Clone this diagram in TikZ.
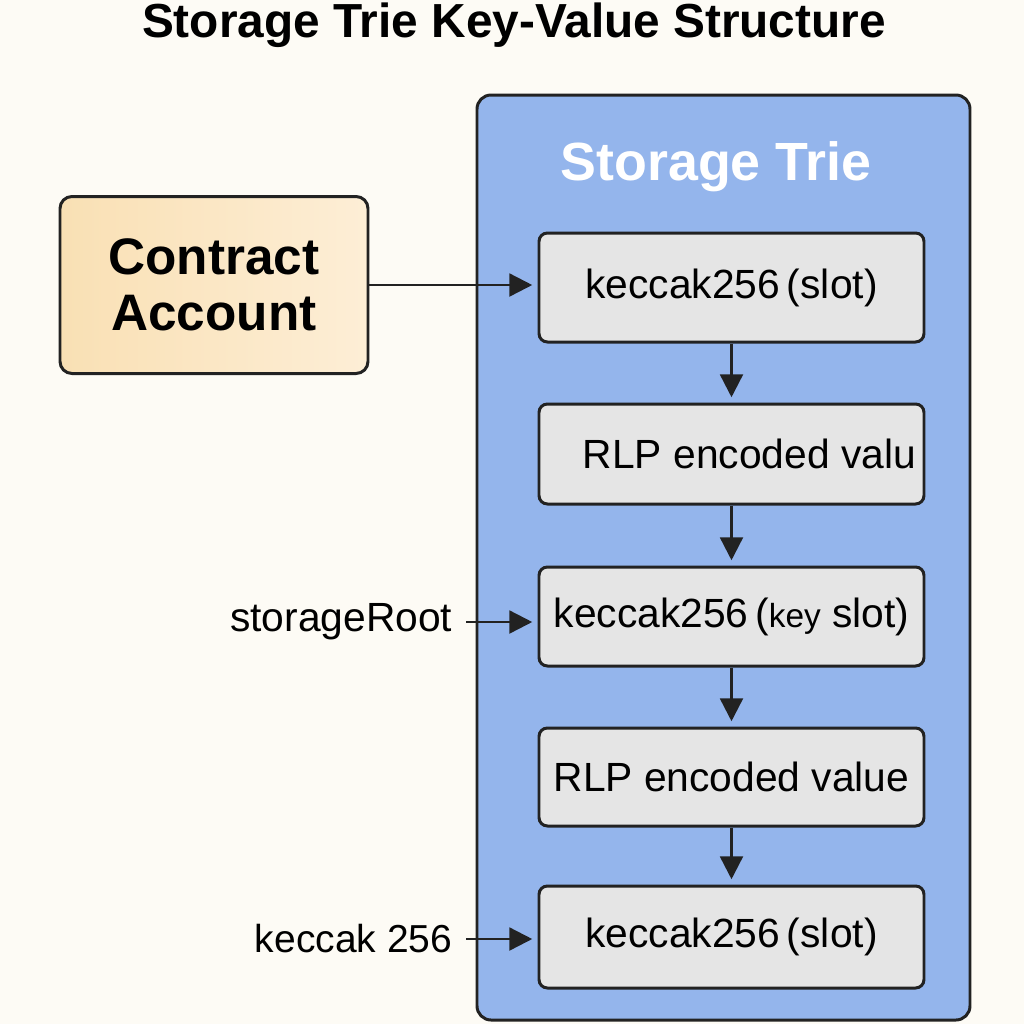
\documentclass[tikz,border=0pt]{standalone}
\usepackage{fontspec}
\setmainfont{Liberation Sans}
\usetikzlibrary{positioning}
\usetikzlibrary{arrows.meta}
\definecolor{bg}{RGB}{253,251,245}
\definecolor{trieblue}{RGB}{148,181,236}
\definecolor{slotgray}{RGB}{229,229,229}
\definecolor{acctl}{RGB}{249,224,180}
\definecolor{acctr}{RGB}{253,238,214}
\definecolor{ink}{RGB}{34,34,34}
\def\bw{3.85cm}
\def\bh{1cm}
\tikzset{
	slotbox/.style={draw=ink,line width=0.85pt,rounded corners=2.4pt,fill=slotgray,minimum width=\bw,minimum height=\bh,inner xsep=0.08cm,font=\fontsize{11.6}{14}\selectfont},
	link/.style={-{Triangle[length=6.5pt,width=6.5pt]},color=ink,line width=0.7pt,shorten >=1.5pt},
	sidelabel/.style={anchor=east,inner xsep=3.7pt,font=\fontsize{11.6}{14}\selectfont}
}

\begin{document}
\begin{tikzpicture}
\fill[bg] (0,0) rectangle (10.24,-10.24);
\useasboundingbox (0,0) rectangle (10.24,-10.24);

\node[font=\bfseries\fontsize{13.6}{16}\selectfont] (title) at (5.14,-0.25) {Storage Trie Key-Value Structure};

% the trie container
\node[draw=ink,line width=0.85pt,rounded corners=4pt,fill=trieblue,minimum width=4.93cm,minimum height=9.25cm] (trie) at (7.235,-5.575) {};
\node[text=white,font=\bfseries\fontsize{15.3}{18}\selectfont] (trietitle) at (7.16,-1.67) {Storage Trie};

\node[draw=ink,line width=0.85pt,rounded corners=3.4pt,left color=acctl,right color=acctr,minimum width=3.08cm,minimum height=1.77cm,align=center,font=\bfseries\fontsize{14.6}{16}\selectfont] (contract) at (2.14,-2.85) {Contract\\Account};

\node[slotbox,minimum height=1.09cm] (k1) at (7.315,-2.875) {keccak256\,(slot)};
\node[slotbox,text width=3.69cm,align=flush right] (v1) at (7.315,-4.54) {RLP encoded valu};
\node[slotbox,minimum height=0.99cm] (k2) at (7.315,-6.165) {keccak256\,({\fontsize{9.5}{12}\selectfont key} slot)};
\node[slotbox,minimum height=0.98cm] (v2) at (7.315,-7.77) {RLP encoded value};
\node[slotbox,minimum height=1.02cm] (k3) at (7.315,-9.37) {keccak256\,(slot)};

\node[sidelabel] (root) at (4.66,-6.22) {storageRoot};
\node[sidelabel,font=\fontsize{11.1}{14}\selectfont] (hash) at (4.66,-9.39) {keccak 256};

\draw[link] (contract.east) -- (contract.east -| k1.west);
\draw[link] (k1) -- (v1);
\draw[link] (v1) -- (k2);
\draw[link] (k2) -- (v2);
\draw[link] (v2) -- (k3);
\draw[link] (root.east) -- (root.east -| k2.west);
\draw[link] (hash.east) -- (hash.east -| k3.west);
\end{tikzpicture}
\end{document}
